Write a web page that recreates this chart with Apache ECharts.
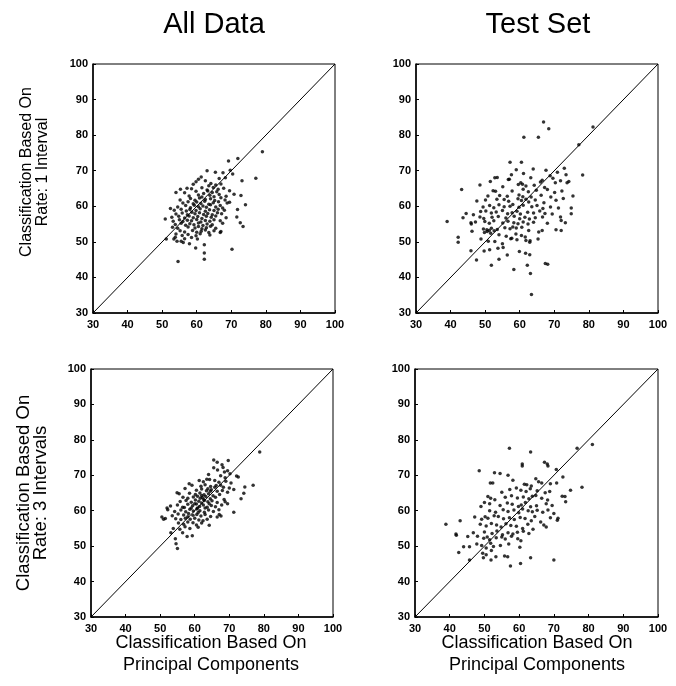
<!DOCTYPE html>
<html>
<head>
<meta charset="utf-8">
<script src="https://cdn.jsdelivr.net/npm/echarts@6/dist/echarts.min.js"></script>
<style>html,body{margin:0;padding:0;background:#fff}#c{width:676px;height:686px}</style>
</head>
<body>
<div id="c"></div>
<script>
// Column titles, axis titles, ticks
const columnTitles = ['All Data', 'Test Set'];
const rowTitles = ['Classification Based On\nRate: 1 Interval', 'Classification Based On\nRate: 3 Intervals'];
const xTitle = 'Classification Based On\nPrincipal Components';
const axisMin = 30, axisMax = 100, axisStep = 10;
const diagonal = [30, 100];

// All Data, Rate: 1 Interval  [principal components, rate]
const allData1 = [
[79.0,75.3],[69.2,72.7],[71.9,73.4],[77.1,67.9],[73.1,67.2],[74.1,60.4],[72.8,63.0],[72.6,55.4],[73.4,54.3],[70.2,47.9],
[62.2,49.2],[62.2,46.9],[62.2,45.1],[54.6,44.5],[59.7,48.3],[50.9,56.4],[52.4,59.4],[51.2,50.8],[53.4,50.8],[54.3,50.2],
[54.0,63.9],[55.3,64.8],[57.2,65.1],[63.0,70.0],[61.3,68.2],[59.8,66.9],[65.4,69.6],[67.6,69.4],[69.7,70.1],[70.4,69.1],
[71.8,59.1],[71.6,57.0],[66.8,52.6],
[60.5,67.6],[62.5,67.2],[66.5,67.8],[68.3,68.0],
[59.0,66.2],[63.5,65.8],[64.1,66.4],[65.5,66.0],[67.0,66.3],
[58.5,64.9],[61.5,65.2],[63.0,64.6],[64.8,65.3],[66.2,64.8],[67.8,65.1],
[56.5,63.8],[59.8,64.2],[62.0,63.6],[63.2,64.3],[64.5,63.9],[65.8,64.1],[69.5,64.4],
[57.8,62.9],[60.5,63.2],[61.5,62.6],[63.8,63.1],[65.0,62.7],[66.5,63.3],[68.5,62.8],[70.8,63.4],
[55.2,61.8],[58.2,62.2],[59.5,61.7],[60.8,62.3],[62.5,61.9],[64.0,62.1],[65.2,61.6],[67.0,62.4],[68.2,61.8],
[56.0,60.9],[57.5,61.3],[59.0,60.7],[60.0,61.2],[61.2,60.8],[62.3,61.4],[63.5,60.6],[64.8,61.0],[66.3,61.3],[68.8,60.9],[69.5,61.1],
[54.5,59.8],[56.8,60.2],[58.2,59.6],[59.3,60.3],[60.5,59.9],[61.8,60.1],[62.8,59.7],[64.0,60.4],[65.5,59.8],[66.8,60.2],[67.5,59.5],
[53.5,58.9],[55.5,59.2],[57.0,58.7],[58.0,59.1],[59.8,58.8],[61.0,59.3],[62.5,58.6],[63.7,59.0],[65.0,58.8],[66.2,59.2],[68.0,58.9],
[54.0,57.8],[55.8,58.1],[57.3,57.6],[58.6,58.3],[59.5,57.9],[60.8,58.2],[62.0,57.7],[63.2,58.0],[64.5,57.6],[66.0,58.2],[67.2,57.9],
[52.8,56.9],[54.8,57.2],[56.5,56.7],[57.8,57.3],[59.0,56.8],[60.3,57.1],[61.5,56.6],[62.8,57.2],[64.2,56.9],[65.5,57.3],[68.5,56.8],
[53.2,55.8],[55.0,56.2],[56.0,55.7],[57.3,56.1],[58.5,55.9],[60.0,56.3],[61.2,55.6],[62.5,56.0],[63.8,55.8],[65.0,56.2],[66.8,55.9],
[53.8,54.9],[55.5,55.2],[56.8,54.7],[58.0,55.1],[59.2,54.8],[60.5,55.3],[61.8,54.6],[63.0,55.0],[64.5,54.8],[67.5,55.2],
[53.0,54.1],[54.5,53.8],[57.5,54.2],[59.5,53.9],[60.5,54.3],[61.5,53.7],[62.8,54.0],[64.0,54.4],[65.5,53.8],
[55.2,53.1],[56.5,52.8],[58.8,53.2],[60.0,52.7],[61.3,53.0],[62.5,53.3],[63.5,52.6],[65.0,53.1],[67.0,52.9],
[54.0,52.2],[55.8,51.8],[57.5,52.1],[59.8,51.7],[61.0,52.3],[63.8,51.9],
[53.8,51.3],[56.5,50.9],[58.5,51.2],[60.2,50.8],[55.5,50.2],[56.1,49.8],[57.9,49.5]
];

// Test Set, Rate: 1 Interval
const testSet1 = [
[66.9,83.7],[68.4,81.8],[61.2,79.4],[65.4,79.4],[81.2,82.3],[77.1,77.3],[78.2,68.8],[57.2,72.4],[60.5,72.4],
[59.0,70.3],[63.9,70.5],[67.6,70.1],[72.9,70.7],
[57.6,68.9],[61.1,69.2],[68.8,68.6],[70.9,69.6],[73.4,68.9],
[52.8,68.0],[53.5,68.1],[57.0,67.6],[63.2,68.0],[66.5,67.3],[69.6,67.9],[71.8,67.2],[74.2,67.0],
[51.5,67.0],[56.7,67.5],[60.3,66.6],[66.0,66.8],[70.3,66.6],
[48.5,66.0],[55.1,65.5],[59.6,66.1],[60.8,66.2],[61.8,65.7],[64.2,65.9],[67.2,65.3],[72.2,64.3],
[43.2,64.7],[52.3,64.4],[53.0,64.2],[57.8,64.3],[61.0,64.8],[62.5,64.1],[64.8,64.5],[68.0,64.7],[70.1,63.9],[73.7,66.6],
[50.8,62.9],[54.2,63.0],[56.4,62.8],[59.8,63.2],[60.9,62.7],[63.3,62.6],[66.2,63.1],[69.0,62.6],[75.4,62.9],[72.6,62.2],
[47.6,61.5],[50.1,61.8],[53.4,62.0],[55.5,61.9],[56.8,61.4],[59.5,62.1],[60.5,61.6],[61.8,62.0],[62.6,61.2],[64.5,61.8],[67.0,61.0],[70.5,61.7],
[49.4,59.8],[51.3,60.2],[52.5,59.6],[54.0,60.4],[55.5,59.9],[57.2,60.0],[58.0,60.5],[59.8,59.7],[61.0,60.3],[63.5,59.9],[65.0,60.2],[66.7,59.4],[68.9,59.8],[71.2,59.5],[74.9,59.5],
[44.5,58.0],[46.6,57.6],[48.7,58.5],[50.2,58.7],[51.8,58.1],[53.2,58.4],[55.0,58.8],[56.5,57.9],[57.8,58.2],[59.2,58.6],[60.2,57.8],[62.3,58.3],[64.0,58.1],[65.8,58.7],[67.3,58.0],[69.4,57.8],[74.9,57.9],
[43.6,56.8],[46.0,55.0],[48.5,57.0],[49.6,56.6],[52.0,56.9],[53.8,57.1],[56.0,56.7],[58.4,57.2],[60.0,56.5],[61.5,56.9],[62.8,56.4],[64.5,56.8],[66.6,57.0],[71.8,57.0],[72.0,56.0],
[39.0,55.7],[45.9,55.4],[47.2,55.6],[49.9,55.7],[51.2,55.2],[52.5,55.9],[55.1,55.3],[56.6,55.8],[58.3,55.4],[59.5,55.1],[61.0,55.6],[62.4,55.0],[64.0,55.5],[68.0,55.2],[73.2,55.4],
[46.2,53.0],[49.5,53.6],[50.5,53.4],[51.2,53.2],[51.8,53.8],[52.6,53.1],[53.5,53.5],[55.7,54.0],[57.2,53.7],[58.0,54.2],[59.0,53.9],[60.6,54.1],[62.6,53.2],[65.5,52.8],[66.5,53.2],[70.5,53.4],[72.0,53.2],
[49.8,52.6],[50.6,52.9],[51.6,52.4],[54.0,52.0],[56.1,51.6],[57.7,51.0],[58.9,52.2],[60.5,51.8],[61.6,51.4],[63.0,50.3],[65.3,50.8],
[42.2,51.3],[42.2,49.9],[48.8,50.8],[50.9,50.2],[52.8,50.1],[55.0,49.5],[57.4,50.9],[59.2,50.6],[61.8,50.4],[62.9,49.9],
[45.9,47.5],[49.7,47.4],[51.3,47.8],[53.7,48.2],[55.2,48.4],[56.4,46.3],[59.9,47.3],[61.7,46.8],[62.9,46.4],
[47.5,44.9],[51.8,43.4],[54.0,45.1],[58.3,42.2],[62.2,43.4],[63.1,41.1],[63.4,35.2],[67.4,43.9],[68.1,43.7]
];

// All Data, Rate: 3 Intervals
const allData3 = [
[78.8,76.6],[76.9,67.2],[74.5,66.7],[73.4,63.4],[74.2,64.9],[72.1,69.8],[72.6,69.5],[71.3,66.0],[71.3,59.6],[65.5,74.3],
[66.5,73.7],[69.7,74.2],[67.9,73.0],[65.5,72.1],[64.2,55.9],[57.8,52.7],[59.3,52.9],[54.6,50.7],[54.4,52.1],[53.1,53.8],
[50.5,58.2],[52.0,60.8],[54.9,65.1],[58.4,67.6],[61.3,68.5],[64.3,68.8],[68.6,70.9],[67.1,58.9],[67.6,58.5],[55.0,49.3],[51.0,57.6],
[66.6,71.5],[68.2,72.2],[69.5,71.3],
[64.0,70.2],[67.5,69.9],[70.2,70.4],[68.8,69.3],
[62.5,68.2],[63.5,68.9],[65.8,68.5],[67.0,68.0],[69.0,68.3],[70.5,67.8],
[59.2,67.2],[61.8,66.9],[63.0,67.3],[64.6,66.8],[66.2,67.1],[68.3,66.6],[70.0,66.4],
[57.2,66.3],[60.5,65.8],[62.0,66.1],[63.4,65.6],[64.8,65.9],[66.5,65.5],[68.0,65.7],[69.5,65.2],
[55.5,64.8],[58.5,64.9],[60.2,64.6],[61.5,65.0],[62.7,64.5],[64.0,64.8],[65.3,64.2],[67.2,64.6],
[56.6,63.8],[58.0,63.5],[59.6,63.9],[60.8,64.1],[62.2,63.7],[63.2,64.0],[64.5,63.4],[66.0,63.8],[68.5,63.2],
[55.8,62.6],[57.5,62.9],[59.0,62.4],[60.2,63.0],[61.2,62.7],[62.0,62.2],[62.8,62.9],[63.8,62.5],[65.0,62.8],[66.5,62.3],[69.5,62.0],
[53.0,61.3],[55.0,61.6],[56.5,61.0],[58.0,61.8],[59.4,61.4],[60.5,61.9],[61.4,61.2],[62.5,61.6],[63.6,61.0],[64.8,61.5],[66.0,61.1],[67.8,61.6],[68.8,62.5],
[52.2,60.3],[54.2,59.8],[56.0,60.2],[57.4,59.7],[58.6,60.4],[59.6,59.9],[60.6,60.5],[61.5,60.0],[62.8,59.6],[64.0,60.2],[65.4,59.8],[67.0,60.3],
[53.5,58.6],[55.2,59.1],[56.8,58.8],[58.2,59.2],[59.5,58.7],[60.6,58.9],[61.8,58.5],[63.0,58.9],[64.6,58.4],[66.5,58.2],
[51.5,57.8],[54.5,57.7],[56.0,57.5],[57.3,57.9],[58.7,57.6],[60.0,57.9],[61.2,57.4],[62.4,57.2],[63.6,57.6],
[55.3,56.5],[56.8,56.2],[58.0,56.8],[59.5,56.6],[60.5,56.0],[62.0,56.5],
[53.8,55.0],[55.7,54.8],[57.2,55.5],[58.6,55.0],[61.0,55.3],[56.5,53.8],
[60.0,62.0],[61.6,63.5],[62.6,63.2],[63.0,60.8],[64.2,62.0],[59.0,60.8],[58.0,58.3],[61.0,59.5],[65.8,66.6],[67.5,67.2],
[63.8,66.2],[60.8,60.8],[57.0,60.9],[62.0,64.3],[64.5,65.5]
];

// Test Set, Rate: 3 Intervals
const testSet3 = [
[81.1,78.7],[76.7,77.6],[57.2,77.6],[63.3,76.6],[60.9,73.2],[60.9,72.6],[67.3,73.7],[68.1,73.2],[70.7,71.6],[68.3,72.6],
[72.6,69.5],[74.8,65.8],[78.1,66.6],[72.4,64.1],[73.4,62.5],[48.5,71.3],[52.9,70.7],[54.5,70.5],[51.7,67.8],[52.4,67.8],
[38.9,56.2],[43.0,57.2],[41.8,53.4],[41.9,53.1],[45.2,52.7],[42.6,48.2],[44.0,49.8],[45.7,49.8],[45.7,46.1],[49.5,48.0],
[49.7,46.7],[51.9,46.1],[55.8,47.2],[56.7,47.0],[57.5,44.4],[60.4,45.1],[63.3,46.7],[70.0,46.1],[60.2,49.7],[67.1,56.0],
[67.8,55.4],[71.2,57.9],[71.0,57.3],
[56.8,70.0],[58.2,68.6],[61.5,67.5],[62.2,67.3],[63.5,67.0],[64.8,69.0],[65.6,68.2],[66.5,67.8],[69.0,67.6],[70.8,67.8],
[55.0,65.2],[57.3,66.0],[59.2,66.4],[60.5,65.8],[62.0,65.4],[63.2,66.2],[65.2,65.6],[67.5,65.1],[68.8,65.4],[73.2,64.0],
[51.0,64.0],[51.8,63.5],[53.0,63.1],[56.0,63.8],[57.8,64.2],[59.5,63.6],[61.2,63.9],[62.8,63.4],[63.8,64.1],[64.8,64.3],[66.5,63.5],[68.2,63.0],
[50.0,62.3],[51.5,62.0],[54.5,61.5],[56.6,62.2],[58.0,61.8],[59.8,61.2],[60.6,61.6],[61.8,62.3],[63.3,61.1],[65.0,61.4],[67.8,62.0],[69.5,61.5],
[49.0,61.2],[51.5,60.0],[53.2,59.6],[55.4,60.3],[56.8,59.8],[58.5,60.2],[59.9,59.4],[61.0,60.5],[62.6,60.0],[63.8,59.7],[65.2,60.1],[66.8,59.6],[68.3,60.2],[70.0,59.2],
[47.2,58.2],[49.2,57.6],[50.2,58.3],[51.0,57.9],[52.8,58.6],[54.0,58.4],[55.5,57.7],[57.2,58.0],[58.6,57.5],[60.3,58.1],[61.7,57.8],[63.5,57.2],[64.5,58.4],[66.2,56.8],[69.0,58.0],
[48.8,56.2],[50.5,55.7],[52.0,56.4],[53.5,56.0],[54.8,55.4],[56.2,56.3],[57.6,55.8],[59.2,55.6],[61.0,55.0],[62.5,56.2],[64.0,54.8],
[46.8,53.8],[50.0,54.0],[52.2,53.6],[53.6,54.3],[55.2,53.2],[56.8,53.8],[58.2,53.4],[59.5,53.9],[61.2,54.2],[62.8,53.6],
[48.0,52.8],[49.8,52.2],[50.8,52.6],[51.5,51.8],[53.4,52.4],[55.0,52.6],[56.0,52.0],[57.8,52.8],[59.6,52.1],[60.5,51.5],
[47.8,50.6],[49.2,50.2],[50.5,49.5],[51.8,50.8],[52.6,49.9],[54.6,50.2],[57.0,50.6],
[50.5,47.6],[52.0,48.8],[53.3,47.0]
];

const panels = [allData1, testSet1, allData3, testSet3];
const grids = [
  {left: 93, top: 64, width: 242, height: 249},
  {left: 416, top: 64, width: 242, height: 249},
  {left: 91, top: 369, width: 242, height: 248},
  {left: 415, top: 369, width: 243, height: 248}
];
const FONT = '"Liberation Sans", Arial, Helvetica, sans-serif';

const chart = echarts.init(document.getElementById('c'), null, {renderer: 'canvas'});
const axisCommon = {
  type: 'value', min: axisMin, max: axisMax, interval: axisStep,
  splitLine: {show: false},
  axisLine: {show: true, onZero: false, lineStyle: {color: '#000', width: 1.5}},
  axisTick: {show: true, inside: true, length: 3, lineStyle: {color: '#000', width: 1}},
  axisLabel: {color: '#000', fontSize: 11, fontWeight: 'bold', fontFamily: FONT, margin: 5}
};

function txt(x, y, text, size, lh, rot) {
  return {type: 'text', x: x, y: y, rotation: rot || 0,
    style: {text: text, align: 'center', verticalAlign: 'middle', textAlign: 'center', textVerticalAlign: 'middle',
      fontSize: size, lineHeight: lh, fontFamily: FONT, fill: '#000'}};
}

const option = {
  animation: false,
  backgroundColor: '#fff',
  grid: grids.map(g => Object.assign({show: true, borderColor: '#000', borderWidth: 1, backgroundColor: 'transparent'}, g)),
  xAxis: grids.map((g, i) => Object.assign({}, axisCommon, {gridIndex: i, axisLabel: Object.assign({}, axisCommon.axisLabel, {margin: 6})})),
  yAxis: grids.map((g, i) => Object.assign({}, axisCommon, {gridIndex: i})),
  series: [].concat(
    panels.map((d, i) => ({
      type: 'scatter', xAxisIndex: i, yAxisIndex: i, data: d,
      symbol: 'circle', symbolSize: 3.5, itemStyle: {color: '#000'}, silent: true
    })),
    panels.map((d, i) => ({
      type: 'line', xAxisIndex: i, yAxisIndex: i,
      data: [[diagonal[0], diagonal[0]], [diagonal[1], diagonal[1]]],
      showSymbol: false, symbol: 'none', lineStyle: {color: '#000', width: 1}, silent: true
    }))
  ),
  graphic: [
    txt(214, 25, columnTitles[0], 29, 30),
    txt(538, 25, columnTitles[1], 29, 30),
    txt(35, 172, rowTitles[0], 16, 16, Math.PI / 2),
    txt(32, 493, rowTitles[1], 18.5, 17, Math.PI / 2),
    txt(211, 654, xTitle, 18, 22),
    txt(537, 654, xTitle, 18, 22)
  ]
};
chart.setOption(option);
</script>
</body>
</html>
